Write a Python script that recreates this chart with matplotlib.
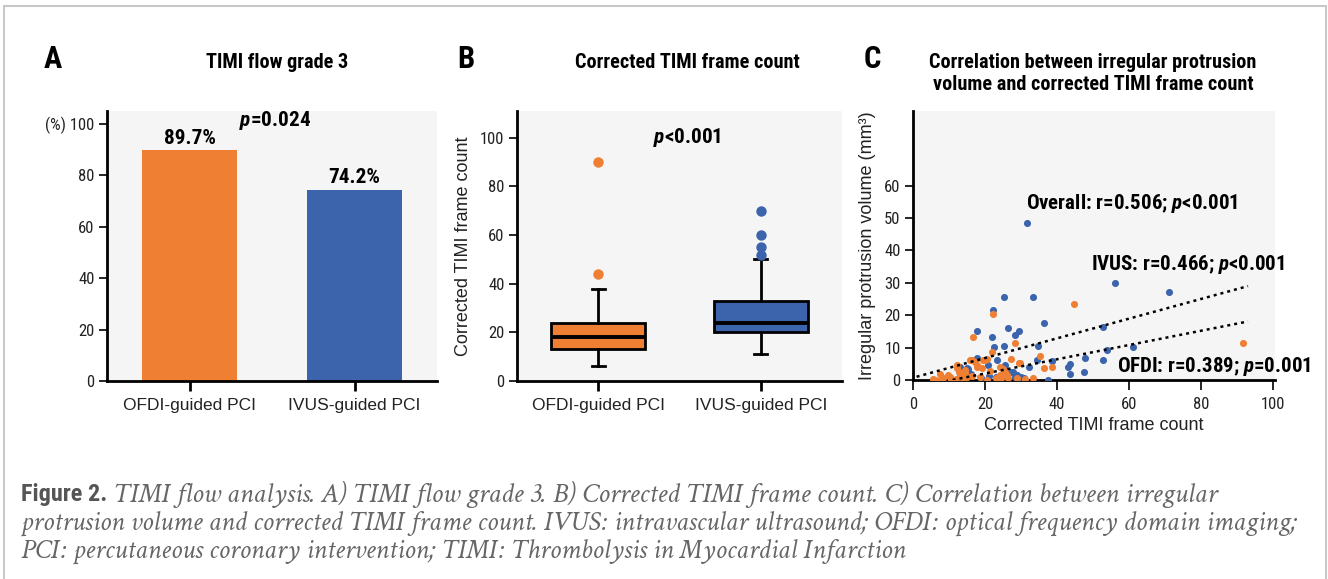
import matplotlib
matplotlib.use("Agg")
import matplotlib.pyplot as plt
from matplotlib.patches import Rectangle
from matplotlib import font_manager as fm
import numpy as np

# ---------------- data ----------------
groups = ["OFDI-guided PCI", "IVUS-guided PCI"]
timi3_pct = [89.7, 74.2]
timi3_p = "=0.024"

# corrected TIMI frame count box stats (q1, median, q3, whisker low, whisker high)
ctfc_q1 = [13, 20]
ctfc_med = [18, 24]
ctfc_q3 = [24, 33]
ctfc_wlo = [6, 11]
ctfc_whi = [38, 50]
ctfc_fliers = [[44, 90], [52, 55, 60, 70]]
ctfc_p = "<0.001"

# scatter: corrected TIMI frame count vs irregular protrusion volume
ivus_x = [56, 71, 25.3, 33.4, 22.2, 36.4, 52.8, 17.7, 26.4, 22, 28.4, 29.4, 25.3, 22.4, 34.7,
          53.9, 61, 52.8, 47.8, 43.6, 43, 43.6, 47.5, 38.6, 34.4, 32.2, 37.5, 30.8, 27.8, 28.3,
          23.3, 17.7, 15.3, 13, 25.5, 21, 23, 31.6, 20.8, 27, 25.5, 14.9, 28.9, 30, 16, 19, 24]
ivus_y = [30, 27, 25.7, 25.7, 21.7, 17.6, 16.5, 15, 16, 13.4, 14, 15, 10.5, 10.3, 10.5,
          9.3, 10.3, 6.2, 6.9, 5, 4, 1.8, 2.5, 5.9, 6.2, 4, 0, 0.6, 2.5, 0.9,
          6.2, 6.9, 3.4, 4, 4.6, 1.2, 1, 48.3, 4.6, 2.5, 3.1, 3.7, 1.5, 1, 2, 0.5, 0.3]
ofdi_x = [44.7, 22.2, 16.7, 28.3, 91.7, 22, 35.3, 27.2, 29.4, 36.4, 38.6, 16.4, 19.4, 20.6, 17.7,
          12.2, 12.8, 14.4, 10.3, 8.3, 7.5, 5.6, 6, 25, 25.5, 26, 26.5, 24.5, 33.4, 31, 29, 18.6,
          20.5, 14, 12, 10.5, 15.8, 17.2, 20, 12.2, 17.7, 19.2, 24.2, 29.7, 13, 14.5, 15, 9.7,
          7.5, 24.2, 23, 16.5, 21.5]
ofdi_y = [23.5, 20.4, 13.3, 11.4, 11.4, 8.7, 7.4, 6.5, 5.3, 3.7, 4, 6.2, 6.2, 6.5, 4.6,
          3.7, 2.5, 2.2, 0.9, 0.6, 1.9, 0.3, 0, 3.5, 2.5, 1.5, 0.5, 0.6, 0.6, 0.3, 0.6, 1,
          0, 0.2, 0.3, 0.1, 6.2, 5.6, 6.2, 4.6, 4, 3.7, 4, 5.3, 1.5, 3, 0.8, 1.5,
          0, 1.5, 0.5, 1.2, 2.8]
# fitted lines: (x start, x end, slope, intercept)
fit_ivus = (1, 93, 0.304, 0.7)
fit_ofdi = (11, 93, 0.22, -2.4)
corr_labels = ["Overall: r=0.506; ", "IVUS: r=0.466; ", "OFDI: r=0.389; "]
corr_p = ["<0.001", "<0.001", "=0.001"]

# ---------------- style ----------------
ORANGE = "#EE7F33"
BLUE = "#3B64AD"
BG = "#F5F5F5"

avail = {f.name for f in fm.fontManager.ttflist}


def pick(cands, default):
    for c in cands:
        if c in avail:
            return c
    return default


COND = pick(["Roboto Condensed", "Barlow Condensed", "Open Sans Condensed",
             "IBM Plex Sans Condensed", "Archivo Narrow", "PT Sans Narrow"], "DejaVu Sans")
COND_L = pick(["Roboto Condensed", "Barlow Condensed", "IBM Plex Sans Condensed",
               "Archivo Narrow", "PT Sans Narrow"], COND)
SANS = pick(["Liberation Sans", "Arimo"], "DejaVu Sans")
SERIF = pick(["Crimson Text", "Crimson Pro", "EB Garamond", "Cardo", "Liberation Serif"],
             "DejaVu Serif")

plt.rcParams["mathtext.fontset"] = "custom"
plt.rcParams["mathtext.it"] = f"{COND}:italic:bold"
plt.rcParams["mathtext.rm"] = f"{COND}:bold"
plt.rcParams["mathtext.bf"] = f"{COND}:bold"

W, H = 1328, 579
fig = plt.figure(figsize=(W / 100, H / 100), dpi=100)
fig.patch.set_facecolor("white")


def ax_at(l, r, t, b):
    return fig.add_axes([l / W, 1 - b / H, (r - l) / W, (b - t) / H])


TICK_FS = 12
TITLE_FS = 14.6
PV_FS = 15.3


def style(ax):
    ax.set_facecolor(BG)
    for s in ["top", "right"]:
        ax.spines[s].set_visible(False)
    for s in ["left", "bottom"]:
        ax.spines[s].set_linewidth(2)
        ax.spines[s].set_color("black")
    ax.tick_params(axis="y", direction="out", length=6, width=1.2, labelsize=TICK_FS,
                   colors="black", labelcolor="#222", pad=3)


def cond_ticks(labels):
    for lab in labels:
        lab.set_family(COND_L)
        lab.set_fontsize(TICK_FS)


# border of the figure frame
fig.add_artist(Rectangle((4 / W, -0.05), 1322 / W, 1.05 - 6 / H, transform=fig.transFigure,
                         fill=False, edgecolor="#C8C8C8", lw=1.5))

# ---------------- Panel A ----------------
axA = ax_at(107, 437, 111, 381)
xpos = np.arange(len(groups))
axA.bar(xpos, timi3_pct, width=0.57, color=[ORANGE, BLUE])
axA.set_xlim(-0.5, 1.5)
axA.set_ylim(0, 105)
axA.set_yticks([0, 20, 40, 60, 80, 100])
style(axA)
axA.set_yticklabels(["0", "20", "40", "60", "80", "(%) 100"])
cond_ticks(axA.get_yticklabels())
axA.set_xticks(xpos)
axA.set_xticklabels(groups, fontsize=12.5, family=SANS, color="#222")
axA.tick_params(axis="x", direction="out", length=7, width=2, pad=5)
for xi, v in zip(xpos, timi3_pct):
    axA.annotate(f"{v}%", (xi, v), xytext=(0, 2), textcoords="offset points",
                 ha="center", va="bottom", fontsize=PV_FS, fontweight="bold", family=COND)
axA.text(0.52, 101.5, r"$p$" + timi3_p, ha="center", va="center", fontsize=PV_FS,
         fontweight="bold", family=COND)

# ---------------- Panel B ----------------
axB = ax_at(517, 842, 111, 381)
stats = []
for i in range(len(groups)):
    stats.append(dict(q1=ctfc_q1[i], med=ctfc_med[i], q3=ctfc_q3[i],
                      whislo=ctfc_wlo[i], whishi=ctfc_whi[i], fliers=ctfc_fliers[i]))
bp = axB.bxp(stats, positions=xpos, widths=0.58, patch_artist=True, showcaps=True,
             boxprops=dict(linewidth=2, edgecolor="black"),
             medianprops=dict(color="black", linewidth=2.8),
             whiskerprops=dict(color="black", linewidth=2),
             capprops=dict(color="black", linewidth=2),
             flierprops=dict(marker="o", markeredgecolor="none", markersize=7.5))
for patch, c in zip(bp["boxes"], [ORANGE, BLUE]):
    patch.set_facecolor(c)
for fl, c in zip(bp["fliers"], [ORANGE, BLUE]):
    fl.set_markerfacecolor(c)
for cap in bp["caps"]:
    mid = np.mean(cap.get_xdata())
    cap.set_xdata([mid - 0.04, mid + 0.04])
axB.set_xlim(-0.5, 1.5)
axB.set_ylim(0, 111)
axB.set_yticks([0, 20, 40, 60, 80, 100])
style(axB)
cond_ticks(axB.get_yticklabels())
axB.set_xticks(xpos)
axB.set_xticklabels(groups, fontsize=12.5, family=SANS, color="#222")
axB.tick_params(axis="x", direction="out", length=7, width=2, pad=5)
axB.set_ylabel("Corrected TIMI frame count", fontsize=13, family=SANS, color="#222", labelpad=6)
axB.text(0.55, 100, r"$p$" + ctfc_p, ha="center", va="center", fontsize=PV_FS,
         fontweight="bold", family=COND)

# ---------------- Panel C ----------------
axC = ax_at(913, 1275, 111, 380)
axC.scatter(ivus_x, ivus_y, s=26, color=BLUE, linewidths=0, zorder=3)
axC.scatter(ofdi_x, ofdi_y, s=26, color=ORANGE, linewidths=0, zorder=3)
for x0, x1, m, b in [fit_ivus, fit_ofdi]:
    xs = np.array([x0, x1])
    axC.plot(xs, m * xs + b, ls=(0, (1.2, 1.6)), color="black", lw=1.8, zorder=4)
axC.set_xlim(0, 100.5)
axC.set_ylim(0, 83)
axC.set_yticks([0, 10, 20, 30, 40, 50, 60])
axC.set_xticks([0, 20, 40, 60, 80, 100])
style(axC)
axC.tick_params(axis="x", direction="out", length=7, width=1.2, pad=5, labelcolor="#222")
cond_ticks(axC.get_yticklabels())
cond_ticks(axC.get_xticklabels())
axC.set_xlabel("Corrected TIMI frame count", fontsize=13, family=SANS, color="#222", labelpad=4)
axC.set_ylabel("Irregular protrusion volume (mm³)", fontsize=13, family=SANS, color="#222",
               labelpad=6)
label_pos = [(31.5, 54.5), (49.5, 35.5), (56.5, 4.3)]
for (lx, ly), lt, pv in zip(label_pos, corr_labels, corr_p):
    axC.text(lx, ly, lt + r"$p$" + pv, ha="left", va="center", fontsize=15,
             fontweight="bold", family=COND, clip_on=False, zorder=5)

# ---------------- titles & panel letters ----------------
for x, letter in [(53, "A"), (466, "B"), (872, "C")]:
    fig.text(x / W, 1 - 59 / H, letter, ha="center", va="center", fontsize=22,
             fontweight="bold", family=COND)
fig.text(277 / W, 1 - 63 / H, "TIMI flow grade 3", ha="center", va="center",
         fontsize=TITLE_FS, fontweight="bold", family=COND)
fig.text(687 / W, 1 - 63 / H, "Corrected TIMI frame count", ha="center", va="center",
         fontsize=TITLE_FS, fontweight="bold", family=COND)
fig.text(1093 / W, 1 - 74 / H,
         "Correlation between irregular protrusion\nvolume and corrected TIMI frame count",
         ha="center", va="center", fontsize=TITLE_FS, fontweight="bold", family=COND,
         linespacing=1.2)

# ---------------- caption ----------------
cap1 = " TIMI flow analysis. A) TIMI flow grade 3. B) Corrected TIMI frame count. C) Correlation between irregular"
cap2 = "protrusion volume and corrected TIMI frame count. IVUS: intravascular ultrasound; OFDI: optical frequency domain imaging;"
cap3 = "PCI: percutaneous coronary intervention; TIMI: Thrombolysis in Myocardial Infarction"

renderer = fig.canvas.get_renderer()
fs = 15
probe = fig.text(21 / W, 0.1, cap2, fontsize=fs, family=SERIF, style="italic")
wpx = probe.get_window_extent(renderer).width
probe.remove()
fs = fs * 1279 / wpx

t_fig = fig.text(21 / W, 1 - 495 / H, "Figure 2.", fontsize=17.5, fontweight="bold",
                 family=COND, color="#555", ha="left", va="center")
fig.canvas.draw()
bb = t_fig.get_window_extent(renderer)
fig.text(bb.x1 / W, 1 - 495 / H, cap1, fontsize=fs * 1.02, family=SERIF, style="italic",
         color="#666", ha="left", va="center")
fig.text(21 / W, 1 - 523 / H, cap2, fontsize=fs, family=SERIF, style="italic",
         color="#666", ha="left", va="center")
fig.text(21 / W, 1 - 551 / H, cap3, fontsize=fs, family=SERIF, style="italic",
         color="#666", ha="left", va="center")

fig.savefig("out.png", dpi=100, facecolor="white")
